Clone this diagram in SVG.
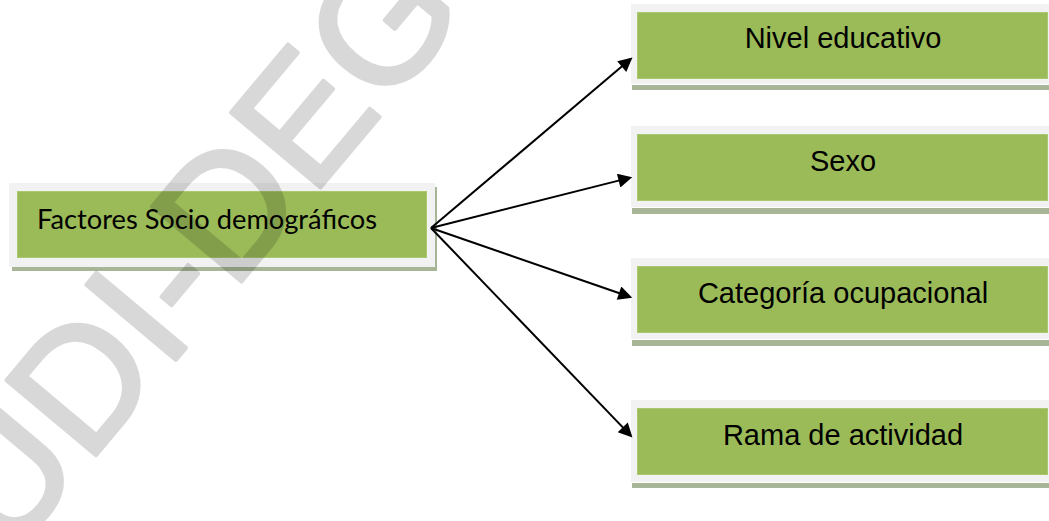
<svg xmlns="http://www.w3.org/2000/svg" width="1049" height="521" viewBox="0 0 1049 521">
<style>
.frame{fill:#f2f2f2}
.shadow{fill:#a9b597}
.green{fill:#9bbb59;stroke:#aac870;stroke-width:1}
.lbl{font-family:"Liberation Sans",Arial,sans-serif;font-size:29px;fill:#000;text-anchor:middle}
.lbl2{font-family:Lato,"Open Sans",sans-serif;font-size:26px;fill:#000}
.conn{stroke:#000;stroke-width:2;fill:none;marker-end:url(#arr)}
.wm{font-family:"Liberation Sans",Arial,sans-serif;font-size:170px;fill:#000;stroke:#000;stroke-width:4;stroke-linejoin:round}
</style>
<defs>
<marker id="arr" viewBox="0 0 10 10" refX="8" refY="5" markerWidth="9" markerHeight="7" orient="auto" markerUnits="strokeWidth">
<path d="M0,0 L10,5 L0,10 z" fill="#000"/>
</marker>
</defs>
<rect width="1049" height="521" fill="#fff"/>
<g id="n-factores">
<rect class="shadow" x="12" y="187" width="425" height="84"/>
<rect class="frame" x="9" y="183" width="426" height="84"/>
<rect class="green" x="17.5" y="191.5" width="409" height="66"/>
<text class="lbl2" x="37" y="229" textLength="340" lengthAdjust="spacingAndGlyphs">Factores Socio demográficos</text>
</g>
<g id="n-nivel">
<rect class="shadow" x="632" y="85" width="417" height="5"/>
<rect class="frame" x="631" y="4" width="418" height="80"/>
<rect class="green" x="637.5" y="12.5" width="410" height="66"/>
<text class="lbl" x="843" y="48">Nivel educativo</text>
</g>
<g id="n-sexo">
<rect class="shadow" x="632" y="208" width="417" height="6"/>
<rect class="frame" x="631" y="126" width="418" height="81"/>
<rect class="green" x="637.5" y="134.5" width="410" height="66"/>
<text class="lbl" x="843" y="171">Sexo</text>
</g>
<g id="n-categoria">
<rect class="shadow" x="632" y="340" width="417" height="6"/>
<rect class="frame" x="631" y="258" width="418" height="81"/>
<rect class="green" x="637.5" y="266.5" width="410" height="66"/>
<text class="lbl" x="843" y="303">Categoría ocupacional</text>
</g>
<g id="n-rama">
<rect class="shadow" x="632" y="483" width="417" height="5"/>
<rect class="frame" x="631" y="400" width="418" height="82"/>
<rect class="green" x="637.5" y="408.5" width="410" height="66"/>
<text class="lbl" x="843" y="445">Rama de actividad</text>
</g>
<g id="connectors">
<line class="conn" x1="431" y1="228" x2="630.3" y2="59.3"/>
<line class="conn" x1="431" y1="228" x2="629.5" y2="177.9"/>
<line class="conn" x1="431" y1="228" x2="629.6" y2="296.8"/>
<line class="conn" x1="431" y1="228" x2="630.5" y2="435.4"/>
</g>
<g id="watermark" opacity="0.15">
<text class="wm" transform="translate(8,560) rotate(-50)">UDI-DEG</text>
</g>
</svg>
